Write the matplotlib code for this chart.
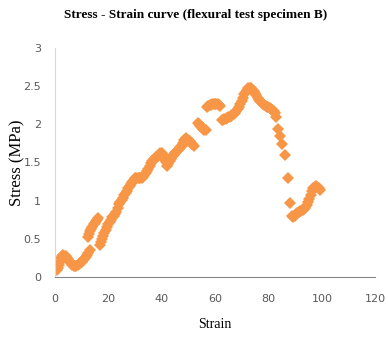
import matplotlib
matplotlib.use("Agg")
from matplotlib import pyplot as plt

# strain / stress readings for specimen B
strain = [
    0.6, 1.0, 1.4, 1.8, 2.2, 2.6, 3.0, 3.5, 4.0, 4.5, 5.0, 5.5, 6.0, 6.5, 7.0,
    7.5, 8.0, 8.5, 9.0, 9.5, 10.0, 10.5, 11.0, 11.5, 12.0, 12.5, 13.0,
    12.4, 12.8, 13.2, 13.6, 14.0, 14.4, 14.8, 15.2, 15.6, 16.0,
    16.8, 17.2, 17.6, 18.0, 18.5, 19.0, 19.5, 20.0, 20.5, 21.0, 21.5, 22.0,
    22.5, 23.0, 23.5, 24.0, 24.5, 25.0, 25.5, 26.0, 26.5, 27.0, 27.5, 28.0,
    28.5, 29.0, 29.5, 30.0, 30.5, 31.0, 31.5, 32.0, 32.5, 33.0, 33.5, 34.0,
    34.5, 35.0, 35.5, 36.0, 36.5, 37.0, 37.5, 38.0, 38.5, 39.0, 39.5, 40.0,
    40.5, 41.0, 41.5, 42.0, 42.5, 43.0, 43.5, 44.0, 44.5, 45.0, 45.5, 46.0,
    46.5, 47.0, 47.5, 48.0, 48.5, 49.0, 49.5, 50.0, 50.5, 51.0, 51.5, 52.0,
    53.5, 54.0, 54.5, 55.0, 55.5, 56.0, 56.5,
    57.0, 57.5, 58.0, 58.5, 59.0, 59.5, 60.0, 60.5, 61.0, 61.5, 62.0,
    62.5, 63.0, 63.5, 64.0, 64.5, 65.0, 65.5, 66.0, 66.5, 67.0, 67.5, 68.0,
    68.5, 69.0, 69.5, 70.0, 70.5, 71.0, 71.5, 72.0, 72.5, 73.0, 73.5, 74.0,
    74.5, 75.0, 75.5, 76.0, 76.5, 77.0, 77.5, 78.0, 78.5, 79.0, 79.5, 80.0,
    80.5, 81.0, 81.5, 82.0, 82.5, 83.0,
    83.7, 84.4, 85.1, 86.0, 87.2, 88.0,
    88.8, 89.3, 89.8, 90.3, 90.8, 91.3, 91.8, 92.3, 92.8, 93.3, 93.8, 94.3,
    94.8, 95.3, 95.8, 96.3, 96.8, 97.3, 97.8, 98.3, 98.8, 99.3,
]
stress = [
    0.09, 0.12, 0.16, 0.20, 0.25, 0.28, 0.29, 0.28, 0.27, 0.25, 0.23, 0.20,
    0.18, 0.16, 0.15, 0.15, 0.15, 0.16, 0.17, 0.18, 0.20, 0.22, 0.24, 0.26,
    0.29, 0.32, 0.35,
    0.52, 0.56, 0.60, 0.63, 0.66, 0.69, 0.71, 0.73, 0.75, 0.77,
    0.42, 0.46, 0.50, 0.54, 0.58, 0.62, 0.66, 0.69, 0.72, 0.75, 0.78, 0.80,
    0.82, 0.85, 0.90, 0.95, 0.98, 1.01, 1.04, 1.07, 1.10, 1.13, 1.16, 1.19,
    1.22, 1.25, 1.27, 1.29, 1.30, 1.30, 1.30, 1.30, 1.30, 1.31, 1.33, 1.36,
    1.39, 1.42, 1.46, 1.49, 1.52, 1.54, 1.55, 1.57, 1.59, 1.60, 1.62, 1.63,
    1.60, 1.55, 1.50, 1.46, 1.48, 1.52, 1.55, 1.58, 1.60, 1.62, 1.64, 1.66,
    1.68, 1.70, 1.72, 1.76, 1.80, 1.82, 1.80, 1.79, 1.78, 1.76, 1.74, 1.72,
    2.02, 2.00, 1.98, 1.96, 1.94, 1.93, 1.92,
    2.22, 2.24, 2.25, 2.25, 2.26, 2.26, 2.26, 2.26, 2.26, 2.25, 2.24,
    2.06, 2.06, 2.07, 2.07, 2.08, 2.09, 2.10, 2.11, 2.12, 2.13, 2.15, 2.17,
    2.20, 2.23, 2.27, 2.31, 2.35, 2.39, 2.42, 2.45, 2.47, 2.48, 2.47, 2.45,
    2.43, 2.41, 2.38, 2.35, 2.32, 2.30, 2.28, 2.27, 2.25, 2.24, 2.23, 2.22,
    2.21, 2.20, 2.19, 2.18, 2.15, 2.10,
    1.94, 1.84, 1.74, 1.60, 1.30, 0.97,
    0.80, 0.78, 0.80, 0.82, 0.84, 0.85, 0.86, 0.87, 0.88, 0.89, 0.91, 0.94,
    0.98, 1.02, 1.07, 1.12, 1.16, 1.18, 1.19, 1.18, 1.16, 1.14,
]

x_ticks = [0, 20, 40, 60, 80, 100, 120]
y_ticks = [0, 0.5, 1, 1.5, 2, 2.5, 3]
y_tick_labels = ["0", "0.5", "1", "1.5", "2", "2.5", "3"]

fig = plt.figure(figsize=(3.88, 3.42), dpi=100)
ax = fig.add_axes([0.142, 0.19, 0.825, 0.67])

ax.plot(strain, stress, linestyle="none", marker="D", markersize=6.5,
        color="#F79646", markeredgewidth=0)

ax.set_xlim(0, 120)
ax.set_ylim(0, 3)
ax.set_xticks(x_ticks)
ax.set_yticks(y_ticks, y_tick_labels)
ax.tick_params(length=0, labelsize=8, labelcolor="#595959", pad=10)
ax.tick_params(axis="x", pad=12)

for side in ("top", "right"):
    ax.spines[side].set_visible(False)
ax.spines["left"].set_color("#d9d9d9")
ax.spines["bottom"].set_color("#868686")

ax.set_xlabel("Strain", family="Liberation Serif", fontsize=10, labelpad=10)
ax.set_ylabel("Stress (MPa)", family="Liberation Serif", fontsize=12,
              va="center")
ax.yaxis.set_label_coords(-0.118, 0.5)
fig.suptitle("Stress - Strain curve (flexural test specimen B)",
             family="Liberation Serif", fontweight="bold", fontsize=9.5,
             x=0.505, y=0.975)

fig.savefig("out.png", dpi=100)
